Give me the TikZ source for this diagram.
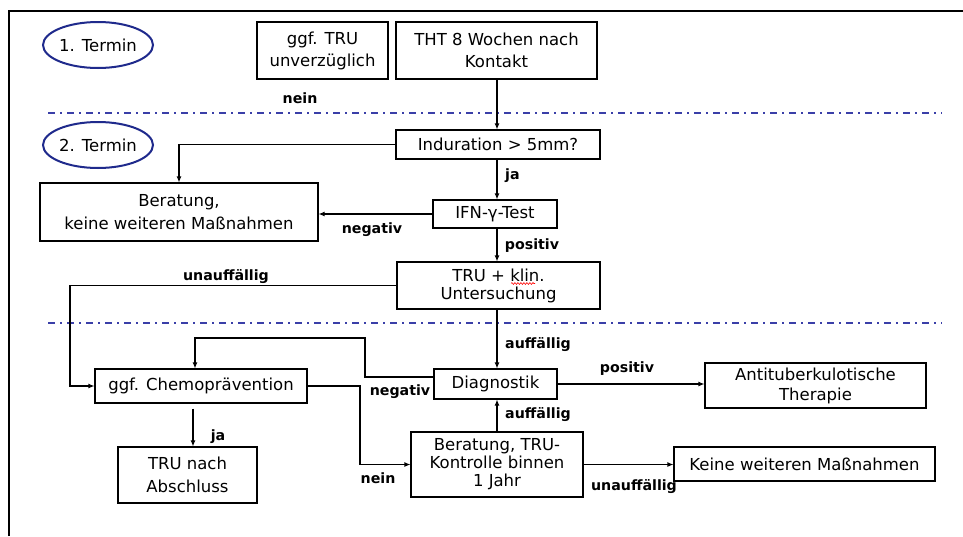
\documentclass[tikz,border=0pt]{standalone}
\usepackage{fontspec}
\setmainfont{DejaVu Sans}
\usetikzlibrary{arrows.meta,shapes.geometric,decorations.pathmorphing}
\definecolor{navy}{HTML}{1F2A8C}
\definecolor{phaseblue}{HTML}{3A3FA8}
\begin{document}
\begin{tikzpicture}[x=1pt,y=-1pt,
  box/.style={draw, line width=1.1pt, align=center, inner sep=0pt,
    font=\fontsize{16.5}{18}\selectfont},
  term/.style={draw=navy, line width=2pt, ellipse, inner sep=0pt,
    minimum width=102pt, minimum height=46pt, font=\fontsize{16.5}{18}\selectfont},
  lbl/.style={font=\bfseries\fontsize{14.2}{16}\selectfont, inner sep=0pt},
  conn/.style={line width=1.1pt, -{Latex[length=6pt,width=5pt]}},
  plain/.style={line width=1.1pt},
  phase/.style={draw=phaseblue, line width=2pt, dash pattern=on 7pt off 5pt on 2pt off 5pt},
]
\useasboundingbox[fill=white] (0,0) rectangle (963,536);

% frame
\draw[line width=2.2pt] (9,536) -- (9,11) -- (963,11);

% phase separators
\draw[phase] (48,113) -- (942,113);
\draw[phase] (48,323) -- (942,323);

% appointments
\node[term] (e1) at (98,45) {1. Termin};
\node[term] (e2) at (98,145) {2. Termin};

% main column
\coordinate (col) at (497,0);
\coordinate (lx) at (70,0);
\coordinate (nx) at (365,0);
\coordinate (mx) at (360,0);

\node[box, minimum width=131pt, minimum height=57pt] (tru0) at (322.5,50.5) {ggf. TRU\\[4pt]unverzüglich};
\node[box, minimum width=201pt, minimum height=57pt] (tht) at (496.5,50.5) {THT 8 Wochen nach\\[4pt]Kontakt};
\node[box, minimum width=204pt, minimum height=29pt] (ind) at (498,144.5) {Induration > 5mm?};
\node[box, minimum width=278pt, minimum height=58pt] (ber) at (179,212) {Beratung,\\[5pt]keine weiteren Maßnahmen};
\node[box, minimum width=124pt, minimum height=28pt] (ifn) at (495,214) {IFN-γ-Test};
\node[box, minimum width=203pt, minimum height=47pt] (tru) at (498.5,285.5) {TRU + klin.\\Untersuchung};
\node[box, minimum width=123pt, minimum height=30pt] (diag) at (495.5,384) {Diagnostik};
\node[box, minimum width=212pt, minimum height=34pt] (chemo) at (201,386) {ggf. Chemoprävention};
\node[box, minimum width=139pt, minimum height=56pt] (trun) at (187.5,475) {TRU nach\\[5pt]Abschluss};
\node[box, minimum width=172pt, minimum height=65pt] (bert) at (497,464.5) {Beratung, TRU-\\Kontrolle binnen\\1 Jahr};
\node[box, minimum width=221pt, minimum height=45pt] (anti) at (815.5,385.5) {Antituberkulotische\\[2pt]Therapie};
\node[box, minimum width=261pt, minimum height=34pt] (keine) at (804.5,464) {Keine weiteren Maßnahmen};

% spell-check squiggle under "klin"
\draw[red, line width=0.6pt, decorate, decoration={snake, amplitude=0.9pt, segment length=3pt}] (511,283.5) -- (535,283.5);

% connectors
\draw[conn] (tht.south -| col) -- (ind.north -| col);
\draw[conn] (ind.west) -| (ber.north);
\draw[conn] (ind.south -| col) -- (ifn.north -| col);
\draw[conn] (ifn.west) -- (ifn.west -| ber.east);
\draw[conn] (ifn.south -| col) -- (tru.north -| col);
\draw[conn] (tru.west) -- (tru.west -| lx) |- (chemo.west);
\draw[conn] (tru.south -| col) -- (diag.north -| col);
\draw[conn] ([yshift=7pt]diag.west) -- ([yshift=7pt]diag.west -| nx) -- ++(0,-39) -| ([xshift=-6pt]chemo.north);
\draw[conn] ([shift={(-8pt,-5pt)}]chemo.south) -- ([xshift=-8pt]chemo.south |- trun.north);
\draw[conn] (chemo.east) -- (chemo.east -| mx) |- (bert.west);
\draw[conn] (bert.north -| col) -- (diag.south -| col);
\draw[conn] (diag.east) -- (diag.east -| anti.west);
\draw[conn] (bert.east) -- (bert.east -| keine.west);

% labels
\node[lbl] (l1) at (300,98) {nein};
\node[lbl, anchor=west] (l2) at (505,176) {ja};
\node[lbl] (l3) at (372,230) {negativ};
\node[lbl] (l4) at (532,246) {positiv};
\node[lbl] (l5) at (226,277) {unauffällig};
\node[lbl] (l6) at (538,345) {auffällig};
\node[lbl] (l7) at (400,392) {negativ};
\node[lbl] (l8) at (627,369) {positiv};
\node[lbl] (l9) at (218,437) {ja};
\node[lbl] (l10) at (538,415) {auffällig};
\node[lbl] (l11) at (378,478) {nein};
\node[lbl] (l12) at (634,487) {unauffällig};
\end{tikzpicture}
\end{document}
